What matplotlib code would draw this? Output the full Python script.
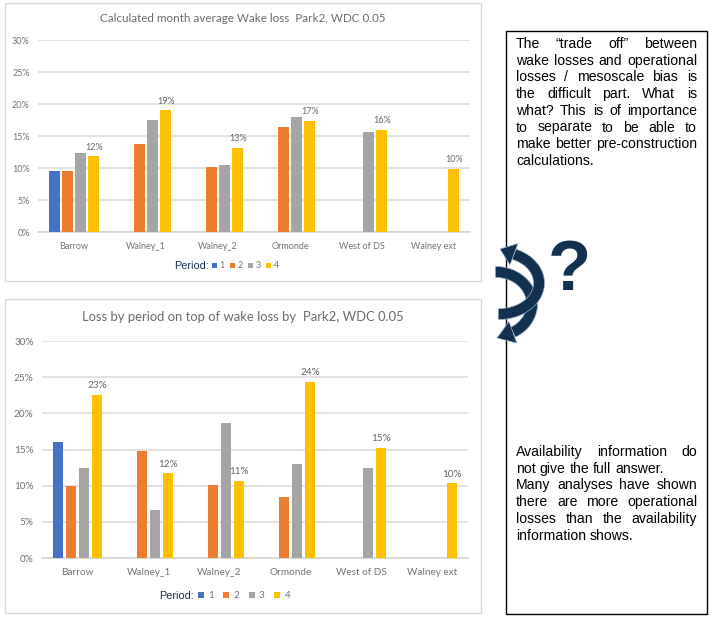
import numpy as np
import matplotlib
matplotlib.use("Agg")
import matplotlib.pyplot as plt
from matplotlib.patches import Rectangle, Polygon

plt.rcParams['font.family'] = ['Lato', 'DejaVu Sans']

W, H = 714, 618

sites = ["Barrow", "Walney_1", "Walney_2", "Ormonde", "West of DS", "Walney ext"]
periods = ["1", "2", "3", "4"]
colors = ["#4472c4", "#ed7d31", "#a5a5a5", "#ffc000"]
yticks = [0, 5, 10, 15, 20, 25, 30]

nan = np.nan
wake_1 = [9.5, nan, nan, nan, nan, nan]
wake_2 = [9.6, 13.7, 10.1, 16.4, nan, nan]
wake_3 = [12.3, 17.5, 10.4, 17.9, 15.7, nan]
wake_4 = [11.8, 19.0, 13.2, 17.3, 15.9, 9.8]

loss_1 = [16.1, nan, nan, nan, nan, nan]
loss_2 = [10.0, 14.8, 10.1, 8.4, nan, nan]
loss_3 = [12.4, 6.7, 18.7, 13.0, 12.4, nan]
loss_4 = [22.6, 11.7, 10.6, 24.4, 15.2, 10.3]

title_top = "Calculated month average Wake loss  Park2, WDC 0.05"
title_bottom = "Loss by period on top of wake loss by  Park2, WDC 0.05"

text_top = ["The “trade off” between", "wake losses and operational",
            "losses / mesoscale bias is", "the difficult part. What is",
            "what? This is of importance", "to separate to be able to",
            "make better pre-construction", "calculations."]
text_bottom = ["Availability information do", "not give the full answer.",
               "Many analyses have shown", "there are more operational",
               "losses than the availability", "information shows."]

fig = plt.figure(figsize=(W / 100, H / 100), dpi=100)

# background layer in pixel coords, for the frames
bg = fig.add_axes([0, 0, 1, 1], zorder=0)
bg.set_xlim(0, W)
bg.set_ylim(H, 0)
bg.axis("off")
bg.add_patch(Rectangle((5, 3), 476, 278, fc="white", ec="#d9d9d9", lw=1.0))
bg.add_patch(Rectangle((5, 299), 476, 314, fc="white", ec="#d9d9d9", lw=1.0))
bg.add_patch(Rectangle((505.5, 30.5), 201, 583, fc="white", ec="black", lw=1.0))


def bar_chart(box, series, title, title_y, title_size, tick_size, legend_y, legend_x, period_x, pad, gap):
    x0, y0, x1, y1 = box
    ax = fig.add_axes([x0 / W, 1 - y1 / H, (x1 - x0) / W, (y1 - y0) / H], zorder=1)
    ax.patch.set_alpha(0)
    pos = np.arange(len(sites))
    step = 0.182
    handles = []
    for i, vals in enumerate(series):
        b = ax.bar(pos + (i - 1.5) * step, vals, width=0.148, color=colors[i], zorder=3)
        handles.append(b)
    for x, v in zip(pos, series[3]):
        ax.annotate("%.0f%%" % v, (x + 1.5 * step, v), xytext=(0, 3.5), textcoords="offset points",
                    ha="center", va="bottom", fontsize=tick_size, color="#666666", zorder=4)
    ax.set_xlim(-0.5, len(sites) - 0.5)
    ax.set_ylim(0, 30)
    ax.set_yticks(yticks)
    ax.set_yticklabels(["%d%%" % t for t in yticks])
    ax.set_xticks(pos)
    ax.set_xticklabels(sites)
    ax.tick_params(length=0, labelsize=tick_size, labelcolor="#737373", pad=6)
    ax.tick_params(axis="x", pad=7)
    ax.grid(axis="y", color="#dedede", lw=1.2, zorder=0)
    ax.set_axisbelow(True)
    for s in ax.spines.values():
        s.set_visible(False)
    ax.spines["bottom"].set_visible(True)
    ax.spines["bottom"].set_color("#d4d4d4")
    ax.spines["bottom"].set_linewidth(1.2)
    fig.text(243 / W, 1 - title_y / H, title, ha="center", va="center",
             fontsize=title_size, color="#6b6b6b")
    fig.text(period_x / W, 1 - legend_y / H, "Period:", ha="left", va="center",
             family="Liberation Sans", fontsize=7.8, color="#15304f")
    fig.legend(handles, periods, ncol=4, loc="center left", bbox_to_anchor=(legend_x / W, 1 - legend_y / H),
               frameon=False, fontsize=tick_size, labelcolor="#737373", handlelength=0.55, handleheight=0.55,
               handletextpad=pad, columnspacing=gap, borderpad=0, borderaxespad=0)
    return ax


bar_chart((38, 40, 470, 232), [wake_1, wake_2, wake_3, wake_4], title_top, 19, 8.4, 6.5, 266, 212, 174, 0.28, 0.59)
bar_chart((42, 341, 468, 558), [loss_1, loss_2, loss_3, loss_4], title_bottom, 317, 9.4, 7.2, 596, 198, 159, 0.45, 0.97)

# overlay for the text box and the arrows
ov = fig.add_axes([0, 0, 1, 1], zorder=2)
ov.set_xlim(0, W)
ov.set_ylim(H, 0)
ov.axis("off")
ov.patch.set_alpha(0)


def justified(lines, top, left=516, right=697, pitch=16.7, size=10.1):
    # Word-spaced lines, the last line of a paragraph stays left aligned
    rend = fig.canvas.get_renderer()
    for n, line in enumerate(lines):
        y = top + n * pitch
        words = line.split()
        last = line.endswith(".") and n >= len(lines) - 1 or line.endswith("answer.")
        arts = [ov.text(left, y, w, fontsize=size, family="Liberation Sans", color="black", va="center") for w in words]
        ws = [a.get_window_extent(rend).width for a in arts]
        if last or len(words) == 1:
            space = size * 100 / 72 * 0.278
        else:
            space = (right - left - sum(ws)) / (len(words) - 1)
        x = left
        for a, w in zip(arts, ws):
            a.set_x(x)
            x += w + space


justified(text_top, 44)
justified(text_bottom, 452)

navy = "#12304f"


def curved_arrow(cx, cy, rx, ry, a0, a1, thick, tip, head_w):
    ang = np.radians(np.linspace(a0, a1, 60))
    outer = np.c_[cx + (rx + thick / 2) * np.cos(ang), cy - (ry + thick / 2) * np.sin(ang)]
    inner = np.c_[cx + (rx - thick / 2) * np.cos(ang), cy - (ry - thick / 2) * np.sin(ang)]
    ov.add_patch(Polygon(np.r_[outer, inner[::-1]], fc=navy, ec="#9fb4c7", lw=0.5))
    end = np.array([cx + rx * np.cos(ang[-1]), cy - ry * np.sin(ang[-1])])
    tip = np.array(tip, dtype=float)
    dv = (tip - end) / np.hypot(*(tip - end))
    nv = np.array([dv[1], -dv[0]])
    ov.add_patch(Polygon([tip, end + nv * head_w / 2, end - nv * head_w / 2], fc=navy, ec="#9fb4c7", lw=0.5))


curved_arrow(496, 304, 36, 32, 91, -62, 11, (497, 338), 23)
curved_arrow(499, 283, 40, 31, -91, 68, 11, (500, 249), 23)
ov.text(569, 272, "?", fontsize=51, fontweight="bold", family="Liberation Sans", color=navy,
        ha="center", va="center")

fig.savefig("out.png", dpi=100)
